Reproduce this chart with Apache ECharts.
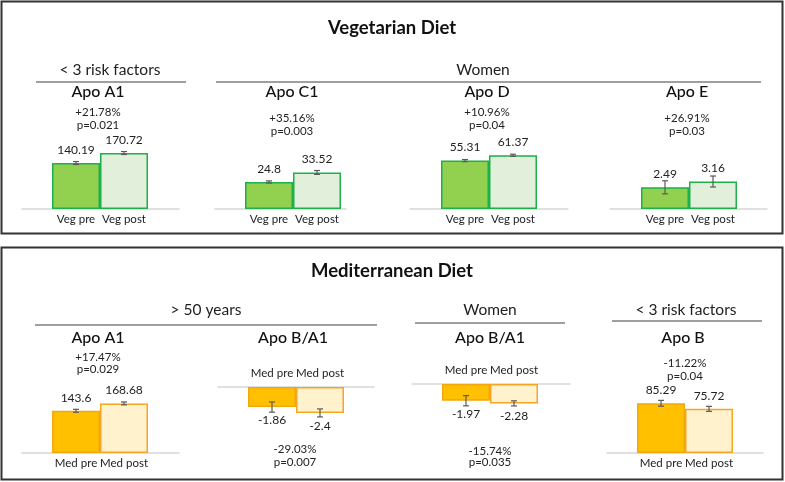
<!DOCTYPE html>
<html>
<head>
<meta charset="utf-8">
<script src="https://cdn.jsdelivr.net/npm/echarts@6/dist/echarts.min.js"></script>
<style>
html,body{margin:0;padding:0;background:#fff;}
#chart{width:785px;height:482px;}
</style>
</head>
<body>
<div id="chart"></div>
<script>
// ---------------- DATA ----------------
const panelTitles = ['Vegetarian Diet', 'Mediterranean Diet'];

const vegCategories = ['Veg pre', 'Veg post'];
const vegTitles = ['Apo A1', 'Apo C1', 'Apo D', 'Apo E'];
const vegPre = [140.19, 24.8, 55.31, 2.49];
const vegPost = [170.72, 33.52, 61.37, 3.16];
const vegPreErr = [4.5, 1.0, 1.2, 0.75];
const vegPostErr = [4.5, 1.8, 1.2, 0.63];
const vegChange = ['+21.78%', '+35.16%', '+10.96%', '+26.91%'];
const vegP = ['p=0.021', 'p=0.003', 'p=0.04', 'p=0.03'];
const vegGroups = ['< 3 risk factors', 'Women'];

const medCategories = ['Med pre', 'Med post'];
const medTitles = ['Apo A1', 'Apo B/A1', 'Apo B/A1', 'Apo B'];
const medPre = [143.6, -1.86, -1.97, 85.29];
const medPost = [168.68, -2.4, -2.28, 75.72];
const medPreErr = [5, 0.47, 0.6, 5];
const medPostErr = [5, 0.37, 0.3, 4.3];
const medChange = ['+17.47%', '-29.03%', '-15.74%', '-11.22%'];
const medP = ['p=0.029', 'p=0.007', 'p=0.035', 'p=0.04'];
const medGroups = ['> 50 years', 'Women', '< 3 risk factors'];

// ---------------- LAYOUT / STYLE ----------------
const FONT = 'Lato';
const vegLayout = [
  {barL: 52, axisL: 22, axisR: 179, base: 209, ppu: 0.328, max: 200, tx: 98, ty: 92, cx: 98, cy: 112, py: 125},
  {barL: 245, axisL: 215, axisR: 346, base: 209, ppu: 1.09, max: 50, tx: 292, ty: 92, cx: 292, cy: 118, py: 131},
  {barL: 441, axisL: 410, axisR: 568, base: 209, ppu: 0.875, max: 80, tx: 487, ty: 92, cx: 487, cy: 112, py: 125},
  {barL: 641, axisL: 610, axisR: 767, base: 209, ppu: 8.7, max: 6, tx: 687, ty: 92, cx: 687, cy: 118, py: 131}
];
const medLayout = [
  {barL: 52, axisL: 22, axisR: 179, base: 453, ppu: 0.294, max: 200, tx: 98, ty: 338, cx: 98, cy: 357, py: 369},
  {barL: 248, axisL: 218, axisR: 374, base: 387, ppu: 10.8, min: -4, tx: 293, ty: 338, cx: 295, cy: 449, py: 462},
  {barL: 442, axisL: 412, axisR: 570, base: 384, ppu: 8.5, min: -4, tx: 490, ty: 338, cx: 490, cy: 451, py: 462},
  {barL: 637, axisL: 607, axisR: 763, base: 453, ppu: 0.583, max: 120, tx: 683, ty: 338, cx: 685, cy: 363, py: 376}
];
const vegGroupLayout = [
  {tx: 110, ty: 70, x1: 36, x2: 186, y: 82},
  {tx: 483, ty: 70, x1: 216, x2: 761, y: 82}
];
const medGroupLayout = [
  {tx: 206, ty: 310, x1: 35, x2: 377, y: 325},
  {tx: 490, ty: 310, x1: 415, x2: 565, y: 323},
  {tx: 686, ty: 310, x1: 612, x2: 762, y: 321}
];
const panelLayout = [
  {x: 1.5, y: 1.5, w: 781, h: 232, ty: 28},
  {x: 1.5, y: 247.5, w: 781, h: 232, ty: 271}
];
const colors = {
  veg: {pre: '#92D050', post: '#E2EFDA', border: '#1DB04B'},
  med: {pre: '#FFC000', post: '#FFF2CC', border: '#F5A623', preBorder: '#F3A70F'}
};

// ---------------- BUILD ----------------
const grids = [], xAxes = [], yAxes = [], series = [], graphics = [];

function addChart(cats, pre, post, preErr, postErr, L, pal) {
  const neg = L.min !== undefined;
  const h = neg ? -L.min * L.ppu : L.max * L.ppu;
  const top = neg ? L.base : L.base - h;
  // frame grid: only the long baseline
  const gi = grids.length;
  grids.push({left: L.axisL, width: L.axisR - L.axisL, top: top, height: h});
  xAxes.push({gridIndex: gi, type: 'category', data: [''], position: neg ? 'top' : 'bottom',
    axisLine: {show: true, lineStyle: {color: '#D6D6D6', width: 1.5}},
    axisTick: {show: false}, axisLabel: {show: false}, splitLine: {show: false}});
  yAxes.push({gridIndex: gi, type: 'value', min: neg ? L.min : 0, max: neg ? 0 : L.max, show: false});
  // bar grid
  const bi = grids.length;
  grids.push({left: L.barL, width: 96, top: top, height: h});
  xAxes.push({gridIndex: bi, type: 'category', data: cats, position: neg ? 'top' : 'bottom',
    axisLine: {show: false}, axisTick: {show: false},
    axisLabel: {interval: 0, hideOverlap: false, fontFamily: FONT, fontSize: 11.5, color: '#222', margin: neg ? 8 : 4},
    splitLine: {show: false}});
  yAxes.push({gridIndex: bi, type: 'value', min: neg ? L.min : 0, max: neg ? 0 : L.max, show: false});
  series.push({
    type: 'bar', xAxisIndex: bi, yAxisIndex: bi, barCategoryGap: '0%', z: 2,
    data: [
      {value: pre, itemStyle: {color: pal.pre, borderColor: pal.preBorder || pal.border, borderWidth: 1.5}},
      {value: post, itemStyle: {color: pal.post, borderColor: pal.border, borderWidth: 1.5}}
    ],
    label: {show: true, position: neg ? 'bottom' : 'top', distance: 7,
      fontFamily: FONT, fontSize: 12, color: '#222'}
  });
  series.push({
    type: 'custom', xAxisIndex: bi, yAxisIndex: bi, z: 5,
    data: [[0, pre, preErr], [1, post, postErr]],
    renderItem: function (params, api) {
      const i = api.value(0), v = api.value(1), e = api.value(2);
      const p1 = api.coord([i, v + e]);
      const p2 = api.coord([i, v - e]);
      const st = {stroke: '#5A5A5A', lineWidth: 1.2};
      const cw = 3;
      return {type: 'group', children: [
        {type: 'line', shape: {x1: p1[0], y1: p1[1], x2: p2[0], y2: p2[1]}, style: st},
        {type: 'line', shape: {x1: p1[0] - cw, y1: p1[1], x2: p1[0] + cw, y2: p1[1]}, style: st},
        {type: 'line', shape: {x1: p2[0] - cw, y1: p2[1], x2: p2[0] + cw, y2: p2[1]}, style: st}
      ]};
    }
  });
}

function text(str, x, y, size, weight, color) {
  graphics.push({type: 'text', z: 10, style: {text: str, x: x, y: y, align: 'center', verticalAlign: 'middle',
    fontFamily: FONT, fontSize: size, fontWeight: weight || 'normal', fill: color || '#222'}});
}
function hline(x1, x2, y, color, w) {
  graphics.push({type: 'line', z: 10, shape: {x1: x1, y1: y, x2: x2, y2: y}, style: {stroke: color, lineWidth: w}});
}

// panels
panelLayout.forEach(function (P, i) {
  graphics.push({type: 'rect', z: 1, shape: {x: P.x, y: P.y, width: P.w, height: P.h},
    style: {fill: 'none', stroke: '#333', lineWidth: 2}});
  text(panelTitles[i], 392, P.ty, 18.5, 'bold', '#111');
});

vegGroups.forEach(function (g, i) {
  const G = vegGroupLayout[i];
  text(g, G.tx, G.ty, 15.5, 'normal', '#222');
  hline(G.x1, G.x2, G.y, '#7F7F7F', 1.5);
});
medGroups.forEach(function (g, i) {
  const G = medGroupLayout[i];
  text(g, G.tx, G.ty, 15.5, 'normal', '#222');
  hline(G.x1, G.x2, G.y, '#7F7F7F', 1.5);
});

vegTitles.forEach(function (t, i) {
  const L = vegLayout[i];
  addChart(vegCategories, vegPre[i], vegPost[i], vegPreErr[i], vegPostErr[i], L, colors.veg);
  text(t, L.tx, L.ty, 16, '500', '#111');
  text(vegChange[i], L.cx, L.cy, 11.5, 'normal', '#222');
  text(vegP[i], L.cx, L.py, 11.5, 'normal', '#222');
});
medTitles.forEach(function (t, i) {
  const L = medLayout[i];
  addChart(medCategories, medPre[i], medPost[i], medPreErr[i], medPostErr[i], L, colors.med);
  text(t, L.tx, L.ty, 16, '500', '#111');
  text(medChange[i], L.cx, L.cy, 11.5, 'normal', '#222');
  text(medP[i], L.cx, L.py, 11.5, 'normal', '#222');
});

const chart = echarts.init(document.getElementById('chart'), null, {renderer: 'canvas'});
chart.setOption({
  backgroundColor: '#fff',
  animation: false,
  grid: grids,
  xAxis: xAxes,
  yAxis: yAxes,
  series: series,
  graphic: graphics
});
</script>
</body>
</html>
